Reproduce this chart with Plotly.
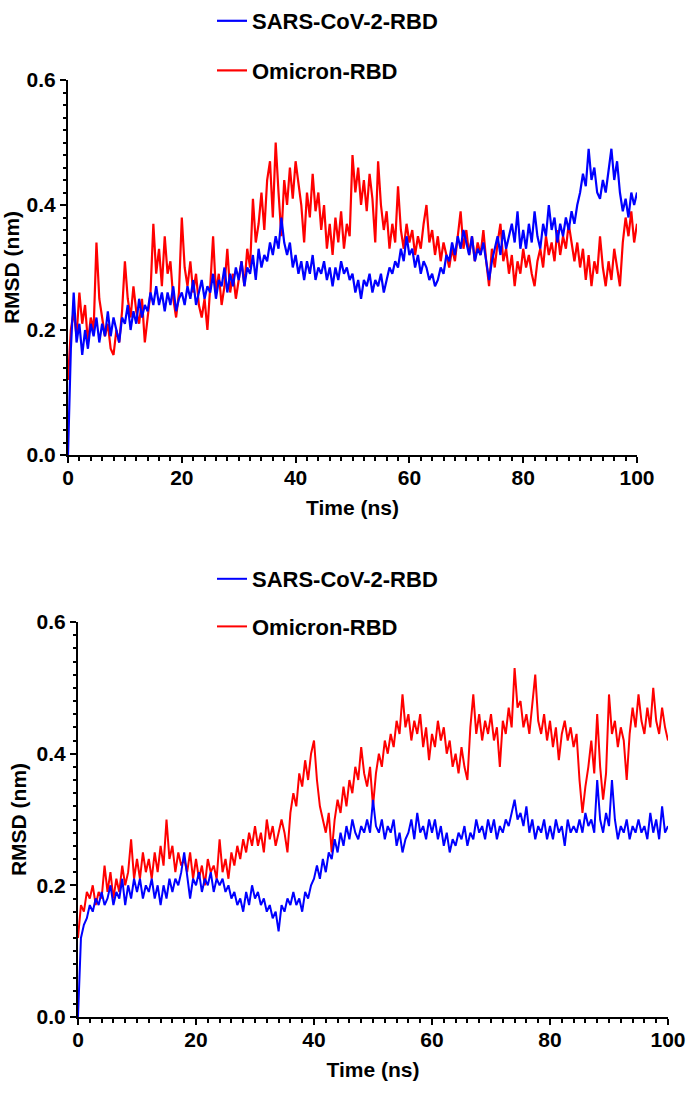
import plotly.graph_objects as go

time_ns = [i * 0.5 for i in range(201)]

# Panel 1 (top)
top_sars = [
    0.00, 0.17, 0.26, 0.18, 0.21, 0.16, 0.20, 0.17, 0.21, 0.19,
    0.22, 0.18, 0.21, 0.19, 0.23, 0.19, 0.22, 0.20, 0.18, 0.22,
    0.21, 0.24, 0.20, 0.23, 0.21, 0.25, 0.22, 0.24, 0.23, 0.26,
    0.24, 0.27, 0.24, 0.26, 0.23, 0.26, 0.24, 0.27, 0.23, 0.25,
    0.26, 0.24, 0.27, 0.25, 0.28, 0.24, 0.26, 0.28, 0.25, 0.27,
    0.26, 0.29, 0.25, 0.28, 0.27, 0.30, 0.26, 0.29, 0.27, 0.30,
    0.28, 0.31, 0.27, 0.30, 0.29, 0.32, 0.28, 0.33, 0.30, 0.32,
    0.31, 0.34, 0.32, 0.35, 0.33, 0.38, 0.34, 0.32, 0.34, 0.30,
    0.32, 0.29, 0.31, 0.28, 0.31, 0.29, 0.32, 0.28, 0.30, 0.29,
    0.31, 0.28, 0.30, 0.27, 0.30, 0.28, 0.31, 0.29, 0.30, 0.28,
    0.29, 0.26, 0.28, 0.25, 0.28, 0.27, 0.29, 0.26, 0.28, 0.27,
    0.29, 0.26, 0.28, 0.30, 0.29, 0.31, 0.30, 0.33, 0.31, 0.35,
    0.32, 0.33, 0.30, 0.32, 0.29, 0.31, 0.30, 0.28, 0.29, 0.27,
    0.28, 0.30, 0.29, 0.32, 0.31, 0.34, 0.32, 0.35, 0.33, 0.36,
    0.34, 0.32, 0.35, 0.31, 0.33, 0.32, 0.34, 0.31, 0.28, 0.31,
    0.33, 0.35, 0.32, 0.36, 0.33, 0.35, 0.37, 0.34, 0.39, 0.33,
    0.36, 0.33, 0.37, 0.34, 0.39, 0.35, 0.33, 0.37, 0.35, 0.40,
    0.36, 0.38, 0.34, 0.37, 0.35, 0.38, 0.36, 0.39, 0.37, 0.40,
    0.42, 0.45, 0.43, 0.49, 0.44, 0.46, 0.42, 0.41, 0.44, 0.42,
    0.46, 0.49, 0.44, 0.47, 0.42, 0.39, 0.41, 0.38, 0.42, 0.40,
    0.42,
]
top_omicron = [
    0.12, 0.20, 0.23, 0.19, 0.26, 0.21, 0.24, 0.18, 0.22, 0.20,
    0.34, 0.25, 0.22, 0.19, 0.21, 0.17, 0.16, 0.20, 0.18, 0.23,
    0.31, 0.25, 0.22, 0.27, 0.23, 0.21, 0.25, 0.18, 0.22, 0.26,
    0.37, 0.29, 0.33, 0.27, 0.35, 0.29, 0.31, 0.25, 0.22, 0.26,
    0.38, 0.30, 0.27, 0.31, 0.26, 0.29, 0.24, 0.22, 0.25, 0.20,
    0.27, 0.35, 0.26, 0.29, 0.24, 0.27, 0.33, 0.26, 0.29, 0.25,
    0.28, 0.31, 0.27, 0.33, 0.30, 0.41, 0.34, 0.37, 0.42, 0.36,
    0.44, 0.47, 0.38, 0.50, 0.42, 0.35, 0.44, 0.40, 0.46, 0.41,
    0.47, 0.43, 0.40, 0.34, 0.42, 0.38, 0.45, 0.39, 0.42, 0.36,
    0.40, 0.33, 0.37, 0.32, 0.38, 0.34, 0.39, 0.33, 0.37, 0.35,
    0.48, 0.42, 0.46, 0.40, 0.44, 0.39, 0.45, 0.41, 0.34, 0.47,
    0.40, 0.36, 0.39, 0.33, 0.37, 0.34, 0.43, 0.36, 0.33, 0.37,
    0.34, 0.36, 0.32, 0.35, 0.33, 0.37, 0.40, 0.34, 0.36, 0.32,
    0.35, 0.31, 0.34, 0.32, 0.30, 0.33, 0.31, 0.35, 0.39, 0.33,
    0.36, 0.32, 0.35, 0.31, 0.34, 0.32, 0.36, 0.31, 0.27, 0.33,
    0.30, 0.34, 0.37, 0.31, 0.33, 0.29, 0.32, 0.27, 0.31, 0.29,
    0.33, 0.30, 0.32, 0.29, 0.27, 0.31, 0.33, 0.30, 0.35, 0.32,
    0.34, 0.31, 0.36, 0.32, 0.35, 0.33, 0.37, 0.34, 0.31, 0.34,
    0.30, 0.33, 0.28, 0.32, 0.27, 0.31, 0.29, 0.35, 0.30, 0.27,
    0.31, 0.28, 0.33, 0.30, 0.27, 0.34, 0.38, 0.35, 0.39, 0.34,
    0.37,
]

# Panel 2 (bottom)
bottom_sars = [
    0.00, 0.12, 0.14, 0.15, 0.17, 0.16, 0.18, 0.17, 0.19, 0.17,
    0.18, 0.20, 0.17, 0.19, 0.18, 0.21, 0.17, 0.20, 0.18, 0.21,
    0.19, 0.21, 0.18, 0.20, 0.19, 0.21, 0.18, 0.20, 0.17, 0.20,
    0.18, 0.21, 0.19, 0.21, 0.20, 0.22, 0.25, 0.21, 0.18, 0.21,
    0.20, 0.22, 0.19, 0.21, 0.20, 0.22, 0.19, 0.21, 0.20, 0.21,
    0.19, 0.20, 0.18, 0.19, 0.17, 0.18, 0.16, 0.19, 0.17, 0.20,
    0.18, 0.19, 0.17, 0.18, 0.16, 0.17, 0.15, 0.16, 0.13, 0.17,
    0.16, 0.18, 0.17, 0.19, 0.17, 0.18, 0.16, 0.19, 0.18, 0.20,
    0.21, 0.23, 0.21, 0.24, 0.22, 0.25, 0.24, 0.27, 0.25, 0.28,
    0.26, 0.29, 0.27, 0.30, 0.28, 0.27, 0.29, 0.28, 0.30, 0.28,
    0.33, 0.29, 0.28, 0.30, 0.27, 0.29, 0.28, 0.30, 0.26, 0.28,
    0.25, 0.27, 0.28, 0.30, 0.27, 0.31, 0.28, 0.29, 0.27, 0.30,
    0.28, 0.30, 0.27, 0.29, 0.26, 0.28, 0.25, 0.27, 0.26, 0.28,
    0.27, 0.29, 0.26, 0.28, 0.27, 0.30, 0.28, 0.29, 0.27, 0.30,
    0.28, 0.30, 0.27, 0.29, 0.28, 0.30, 0.29, 0.31, 0.33, 0.30,
    0.31, 0.29, 0.32, 0.28, 0.30, 0.27, 0.29, 0.28, 0.30, 0.27,
    0.29, 0.27, 0.30, 0.28, 0.29, 0.26, 0.30, 0.28, 0.29, 0.28,
    0.30, 0.28, 0.31, 0.29, 0.30, 0.28, 0.36, 0.30, 0.28, 0.31,
    0.29, 0.36, 0.30, 0.27, 0.29, 0.28, 0.30, 0.27, 0.29, 0.28,
    0.30, 0.28, 0.29, 0.27, 0.31, 0.28, 0.30, 0.27, 0.32, 0.28,
    0.29,
]
bottom_omicron = [
    0.12, 0.17, 0.16, 0.19, 0.18, 0.20, 0.17, 0.19, 0.18, 0.23,
    0.19, 0.22, 0.18, 0.21, 0.19, 0.23, 0.20, 0.22, 0.27, 0.21,
    0.24, 0.21, 0.25, 0.22, 0.24, 0.21, 0.25, 0.22, 0.26, 0.23,
    0.30, 0.24, 0.26, 0.22, 0.25, 0.23, 0.24, 0.22, 0.25, 0.21,
    0.24, 0.21, 0.23, 0.20, 0.24, 0.22, 0.23, 0.21, 0.27, 0.22,
    0.24, 0.21, 0.25, 0.23, 0.26, 0.24, 0.27, 0.25, 0.28, 0.26,
    0.29, 0.26, 0.28, 0.25, 0.30, 0.27, 0.29, 0.26, 0.28, 0.30,
    0.28, 0.25, 0.31, 0.34, 0.32, 0.37, 0.35, 0.39, 0.36, 0.40,
    0.42, 0.36, 0.32, 0.30, 0.28, 0.31, 0.25, 0.30, 0.33, 0.31,
    0.35, 0.32, 0.36, 0.34, 0.38, 0.36, 0.41, 0.37, 0.35, 0.38,
    0.32, 0.37, 0.40, 0.38, 0.42, 0.40, 0.43, 0.41, 0.45, 0.43,
    0.49, 0.44, 0.46, 0.42, 0.45, 0.43, 0.46, 0.41, 0.44, 0.39,
    0.43, 0.41, 0.45, 0.42, 0.44, 0.40, 0.42, 0.38, 0.40, 0.37,
    0.41, 0.38, 0.36, 0.44, 0.49, 0.43, 0.46, 0.42, 0.45, 0.43,
    0.46, 0.42, 0.44, 0.38, 0.45, 0.43, 0.47, 0.44, 0.53, 0.47,
    0.48, 0.44, 0.46, 0.43, 0.47, 0.52, 0.45, 0.43, 0.46, 0.42,
    0.45, 0.41, 0.44, 0.39, 0.43, 0.45, 0.42, 0.44, 0.41, 0.43,
    0.36, 0.31, 0.35, 0.38, 0.42, 0.37, 0.46, 0.38, 0.33, 0.37,
    0.49, 0.43, 0.45, 0.41, 0.44, 0.42, 0.36, 0.43, 0.47, 0.44,
    0.49, 0.45, 0.43, 0.47, 0.44, 0.50, 0.45, 0.43, 0.47, 0.44,
    0.42,
]

series_names = ["SARS-CoV-2-RBD", "Omicron-RBD"]
series_colors = ["#0000FF", "#FF0000"]
x_ticks = [0, 20, 40, 60, 80, 100]
y_ticks = [0.0, 0.2, 0.4, 0.6]
x_title = "Time (ns)"
y_title = "RMSD (nm)"

# ---------------- figure ----------------
W, H = 689, 1093
FONT = "Arial, Liberation Sans, sans-serif"

fig = go.Figure()

panels = [
    ("x", "y", "legend", top_sars, top_omicron, 2.2),
    ("x2", "y2", "legend2", bottom_sars, bottom_omicron, 2.0),
]
for xa, ya, lg, sars, omi, lw in panels:
    fig.add_trace(go.Scatter(
        x=time_ns, y=omi, mode="lines", name=series_names[1],
        line=dict(color=series_colors[1], width=lw),
        xaxis=xa, yaxis=ya, legend=lg, legendgroup=lg + "o", legendrank=2,
    ))
    fig.add_trace(go.Scatter(
        x=time_ns, y=sars, mode="lines", name=series_names[0],
        line=dict(color=series_colors[0], width=lw),
        xaxis=xa, yaxis=ya, legend=lg, legendgroup=lg + "s", legendrank=1,
    ))


def px_x(p):
    return p / W


def px_y(p):
    return 1 - p / H


tickfont = dict(family=FONT, size=21, color="black", weight="bold")
titlefont = dict(family=FONT, size=21, color="black", weight="bold")
legendfont = dict(family=FONT, size=22, color="black", weight="bold")


def xaxis_cfg(x0, x1, anchor):
    return dict(
        domain=[px_x(x0), px_x(x1)], anchor=anchor, range=[0, 100],
        tickmode="array", tickvals=x_ticks, ticks="outside", ticklen=6, tickwidth=2,
        tickcolor="black", showline=True, linecolor="black", linewidth=2,
        showgrid=False, zeroline=False, tickfont=tickfont, ticklabelstandoff=-3,
        minor=dict(ticks="outside", dtick=2, ticklen=3.5, tickwidth=1.5,
                   tickcolor="black", showgrid=False),
        title=dict(text=x_title, font=titlefont, standoff=12),
        automargin=False,
    )


def yaxis_cfg(y0, y1, anchor):
    return dict(
        domain=[px_y(y1), px_y(y0)], anchor=anchor, range=[0, 0.6],
        tickmode="array", tickvals=y_ticks, tickformat=".1f",
        ticks="outside", ticklen=6, tickwidth=2, tickcolor="black",
        showline=True, linecolor="black", linewidth=2,
        showgrid=False, zeroline=False, tickfont=tickfont,
        minor=dict(ticks="outside", dtick=0.02, ticklen=3.5, tickwidth=1.5,
                   tickcolor="black", showgrid=False),
        title=dict(text=y_title, font=titlefont, standoff=4),
        automargin=False,
    )


fig.update_layout(
    width=W, height=H,
    margin=dict(l=0, r=0, t=0, b=0),
    paper_bgcolor="white", plot_bgcolor="white",
    xaxis=xaxis_cfg(68, 637, "y"),
    yaxis=yaxis_cfg(80, 455, "x"),
    xaxis2=xaxis_cfg(78, 668, "y2"),
    yaxis2=yaxis_cfg(622, 1017, "x2"),
    legend=dict(
        x=px_x(212), y=1, xanchor="left", yanchor="top",
        traceorder="grouped", tracegroupgap=18,
        font=legendfont, bgcolor="rgba(0,0,0,0)", borderwidth=0,
    ),
    legend2=dict(
        x=px_x(212), y=px_y(558), xanchor="left", yanchor="top",
        traceorder="grouped", tracegroupgap=16,
        font=legendfont, bgcolor="rgba(0,0,0,0)", borderwidth=0,
    ),
    showlegend=True,
)

fig.write_html(
    "out.html",
    config={"displayModeBar": False},
    post_script="document.body.style.margin='0';document.body.style.overflow='hidden';",
)
